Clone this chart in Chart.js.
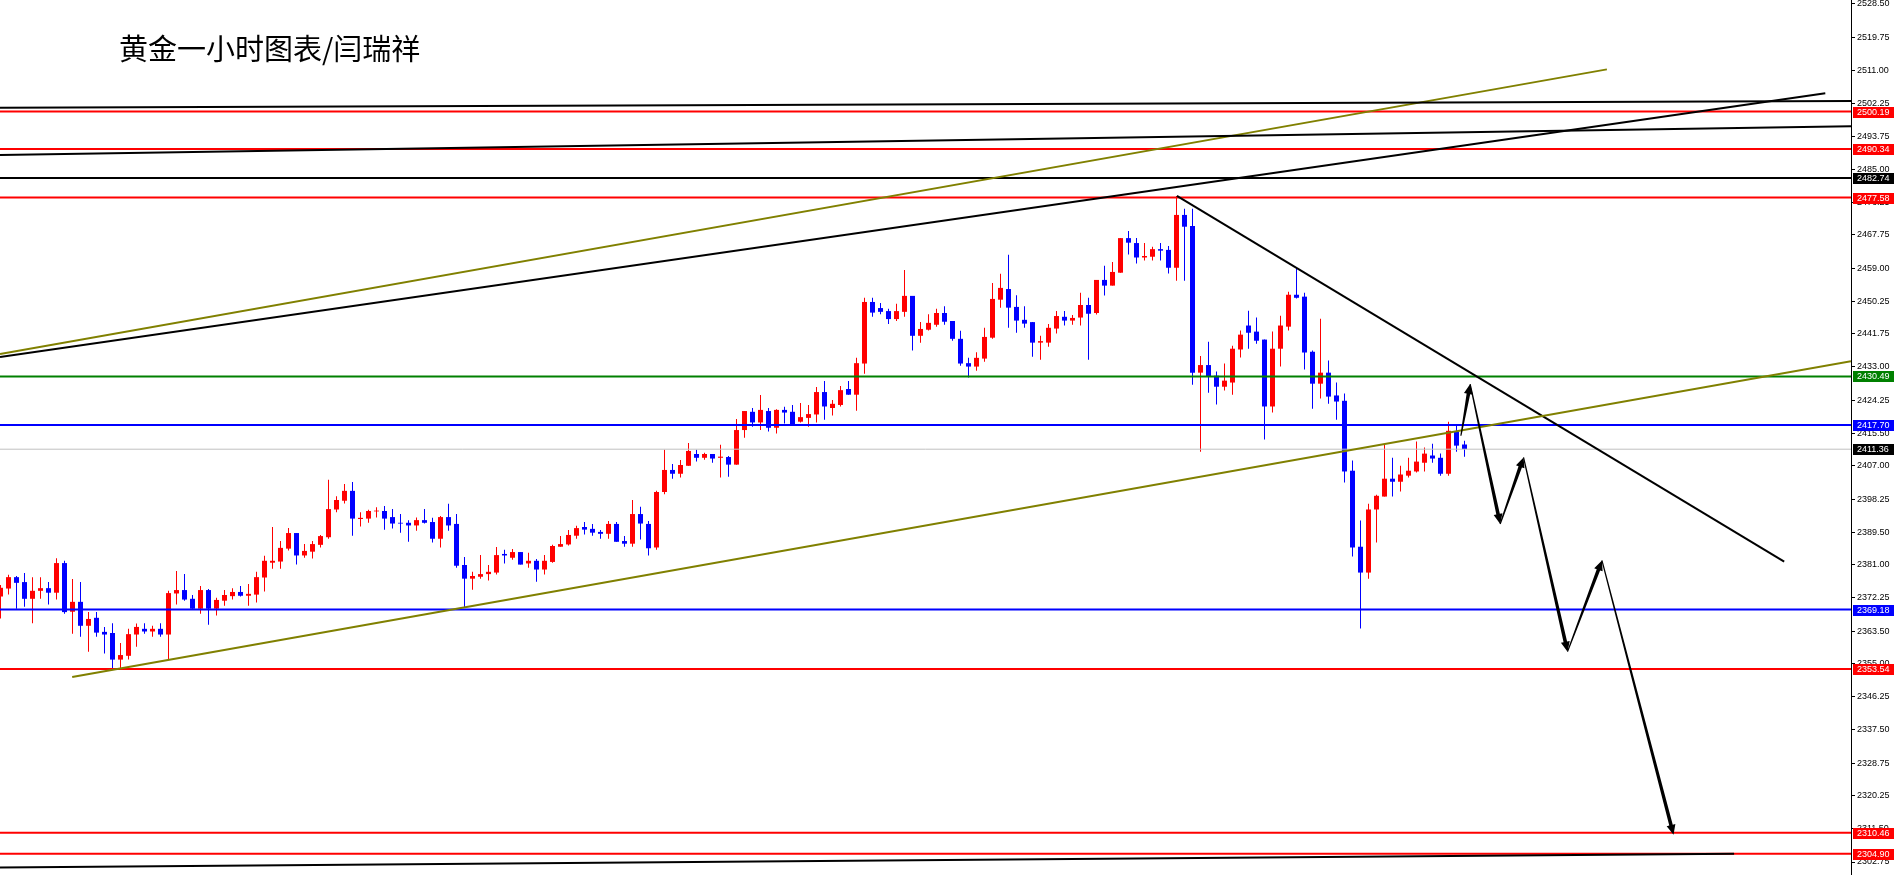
<!DOCTYPE html>
<html>
<head>
<meta charset="utf-8">
<script src="https://cdn.jsdelivr.net/npm/chart.js@4.4.1/dist/chart.umd.min.js"></script>
<style>
  html, body { margin: 0; padding: 0; background: #fff; }
  #wrap { width: 1895px; height: 875px; }
</style>
</head>
<body>
<div id="wrap"><canvas id="goldChart" width="1895" height="875"></canvas></div>
<script>
// hourly gold candles (index = hour bar)
const opens = [
  2372.6, 2374.7, 2377.7, 2376.4, 2372.0, 2374.1, 2374.8, 2373.6, 2381.4, 2368.6,
  2371.2, 2364.9, 2367.0, 2363.3, 2363.0, 2356.0, 2357.0, 2362.6, 2364.1, 2363.4,
  2364.1, 2362.6, 2373.4, 2374.3, 2372.0, 2369.4, 2374.3, 2369.4, 2371.5, 2372.7,
  2373.8, 2372.8, 2373.1, 2377.6, 2381.5, 2381.8, 2385.2, 2389.3, 2383.4, 2384.4,
  2386.2, 2388.2, 2395.5, 2397.8, 2400.4, 2393.0, 2393.1, 2395.0, 2395.1, 2393.5,
  2392.0, 2392.0, 2391.3, 2392.7, 2392.2, 2387.8, 2393.5, 2391.7, 2380.9, 2377.3,
  2377.8, 2378.5, 2378.9, 2383.8, 2382.8, 2384.3, 2381.3, 2382.0, 2379.7, 2381.7,
  2385.7, 2386.3, 2388.6, 2390.9, 2390.4, 2389.6, 2389.1, 2391.7, 2387.2, 2386.5,
  2394.3, 2391.7, 2385.5, 2400.1, 2405.9, 2404.9, 2407.0, 2410.1, 2409.1, 2410.1,
  2409.1, 2409.3, 2407.3, 2416.4, 2421.2, 2418.4, 2421.4, 2417.0, 2421.7, 2421.2,
  2418.6, 2419.6, 2420.5, 2426.4, 2422.2, 2423.0, 2427.2, 2425.7, 2433.9, 2450.1,
  2448.5, 2447.7, 2445.6, 2447.5, 2451.7, 2441.2, 2442.8, 2444.1, 2447.2, 2445.1,
  2440.4, 2434.0, 2433.1, 2435.2, 2440.7, 2450.7, 2453.5, 2448.8, 2445.4, 2444.8,
  2439.4, 2439.4, 2443.1, 2446.2, 2445.2, 2446.0, 2449.3, 2447.2, 2455.9, 2454.4,
  2457.8, 2466.9, 2465.6, 2461.8, 2462.0, 2464.0, 2463.8, 2459.1, 2473.0, 2470.1,
  2431.5, 2433.5, 2430.7, 2427.8, 2428.9, 2437.6, 2443.9, 2442.3, 2440.2, 2422.6,
  2437.8, 2443.6, 2452.0, 2451.5, 2437.0, 2428.6, 2431.5, 2425.5, 2424.1, 2405.7,
  2385.7, 2378.9, 2395.5, 2398.9, 2403.6, 2402.8, 2404.4, 2405.5, 2407.8, 2409.7,
  2409.1, 2404.9, 2416.0, 2412.6
];
const highs = [
  2375.6, 2378.3, 2378.0, 2378.8, 2377.7, 2377.7, 2376.4, 2382.7, 2382.0, 2377.2,
  2376.4, 2368.5, 2368.5, 2364.6, 2365.6, 2360.4, 2364.1, 2365.5, 2365.6, 2364.9,
  2365.6, 2374.1, 2379.3, 2378.5, 2373.0, 2375.4, 2374.6, 2372.3, 2374.3, 2374.8,
  2375.4, 2375.9, 2379.1, 2383.3, 2390.9, 2387.2, 2390.6, 2389.3, 2386.4, 2387.2,
  2388.8, 2403.3, 2399.0, 2402.2, 2402.7, 2394.8, 2395.4, 2396.1, 2396.4, 2395.6,
  2394.3, 2392.7, 2393.4, 2395.6, 2393.3, 2393.8, 2397.0, 2394.3, 2383.0, 2379.1,
  2383.5, 2380.9, 2385.6, 2384.9, 2385.1, 2384.3, 2384.1, 2382.5, 2383.5, 2386.2,
  2388.5, 2390.1, 2391.2, 2392.2, 2391.7, 2390.1, 2392.5, 2392.2, 2388.5, 2398.0,
  2396.2, 2392.5, 2400.4, 2411.2, 2407.5, 2408.5, 2413.0, 2411.2, 2410.4, 2410.1,
  2412.5, 2409.6, 2419.3, 2421.4, 2422.2, 2425.6, 2422.2, 2421.9, 2422.5, 2423.0,
  2423.5, 2423.0, 2427.7, 2429.3, 2424.3, 2428.0, 2429.3, 2435.4, 2451.2, 2451.2,
  2449.8, 2448.3, 2449.6, 2458.5, 2451.7, 2444.8, 2446.9, 2448.3, 2449.0, 2445.1,
  2442.5, 2435.4, 2436.9, 2443.3, 2455.1, 2457.5, 2462.5, 2451.9, 2449.0, 2444.8,
  2441.2, 2444.3, 2447.7, 2447.7, 2446.7, 2452.5, 2451.2, 2455.9, 2459.6, 2460.6,
  2466.9, 2468.8, 2466.9, 2465.6, 2464.6, 2465.6, 2464.8, 2478.0, 2474.6, 2474.6,
  2435.9, 2439.6, 2431.8, 2433.9, 2438.6, 2442.6, 2447.8, 2446.0, 2440.2, 2442.3,
  2446.5, 2452.8, 2459.1, 2452.5, 2437.3, 2445.7, 2434.7, 2428.9, 2426.0, 2408.4,
  2392.6, 2397.0, 2399.4, 2412.6, 2409.1, 2407.0, 2409.1, 2413.4, 2411.8, 2412.8,
  2410.2, 2418.6, 2417.8, 2413.6
];
const lows = [
  2366.8, 2373.1, 2369.4, 2369.9, 2365.6, 2372.0, 2370.5, 2371.8, 2368.1, 2362.8,
  2362.0, 2358.1, 2362.0, 2357.6, 2353.7, 2353.7, 2356.0, 2359.4, 2362.8, 2362.0,
  2362.0, 2355.9, 2370.5, 2371.5, 2369.4, 2368.1, 2365.2, 2367.6, 2370.2, 2371.8,
  2372.6, 2370.2, 2371.0, 2373.9, 2379.9, 2379.9, 2384.7, 2381.0, 2382.8, 2382.6,
  2385.5, 2387.8, 2394.8, 2397.1, 2388.6, 2391.0, 2392.0, 2393.4, 2390.2, 2390.5,
  2389.4, 2387.0, 2389.9, 2391.8, 2386.8, 2385.5, 2389.9, 2380.2, 2369.7, 2374.4,
  2377.3, 2376.8, 2378.4, 2381.3, 2382.3, 2381.0, 2380.2, 2376.5, 2378.4, 2381.5,
  2385.7, 2386.0, 2387.8, 2388.9, 2388.6, 2387.8, 2387.8, 2387.0, 2385.7, 2385.7,
  2387.6, 2383.4, 2384.9, 2399.5, 2403.6, 2403.9, 2407.0, 2408.1, 2408.6, 2407.8,
  2403.9, 2404.1, 2407.3, 2414.4, 2417.3, 2416.4, 2416.0, 2415.5, 2418.1, 2417.6,
  2418.4, 2417.3, 2418.4, 2419.1, 2420.2, 2422.6, 2425.7, 2421.5, 2431.2, 2446.2,
  2446.9, 2444.3, 2445.1, 2446.2, 2437.3, 2439.4, 2442.6, 2443.6, 2444.1, 2439.9,
  2433.3, 2430.2, 2432.0, 2434.4, 2440.4, 2448.6, 2443.3, 2442.0, 2443.3, 2435.7,
  2434.9, 2438.3, 2441.8, 2443.9, 2444.1, 2443.9, 2434.9, 2446.8, 2451.8, 2454.4,
  2457.8, 2462.6, 2460.2, 2461.0, 2461.0, 2461.0, 2457.6, 2455.7, 2455.7, 2428.3,
  2410.7, 2426.2, 2423.1, 2426.8, 2425.7, 2435.5, 2437.8, 2439.1, 2413.9, 2421.0,
  2433.1, 2442.6, 2451.0, 2432.3, 2422.0, 2424.7, 2423.3, 2419.1, 2402.6, 2383.1,
  2364.2, 2377.3, 2386.8, 2398.9, 2398.9, 2400.2, 2403.9, 2405.2, 2405.5, 2407.8,
  2404.4, 2404.4, 2410.7, 2409.4
];
const closes = [
  2374.9, 2377.7, 2376.2, 2372.0, 2374.1, 2374.8, 2373.6, 2381.4, 2368.5, 2371.2,
  2364.9, 2366.7, 2363.1, 2362.6, 2356.0, 2357.2, 2362.7, 2364.6, 2363.4, 2364.1,
  2362.6, 2373.5, 2374.3, 2371.8, 2369.4, 2374.3, 2369.4, 2371.7, 2373.0, 2373.8,
  2372.8, 2373.3, 2377.7, 2382.0, 2382.0, 2385.4, 2389.3, 2383.4, 2384.6, 2386.4,
  2388.5, 2395.6, 2398.0, 2400.4, 2393.1, 2393.3, 2395.1, 2395.2, 2393.1, 2391.8,
  2391.8, 2391.3, 2392.7, 2392.0, 2387.8, 2393.5, 2391.3, 2380.7, 2377.3, 2378.0,
  2378.5, 2379.1, 2383.5, 2383.4, 2384.3, 2381.0, 2382.0, 2379.7, 2382.0, 2385.9,
  2386.4, 2388.8, 2390.6, 2390.2, 2389.4, 2389.1, 2391.7, 2387.0, 2386.5, 2394.3,
  2391.8, 2385.3, 2400.1, 2405.9, 2404.9, 2407.2, 2410.9, 2409.1, 2410.1, 2408.9,
  2409.4, 2407.3, 2416.4, 2421.4, 2418.4, 2421.7, 2417.0, 2421.7, 2421.0, 2417.8,
  2419.8, 2420.6, 2426.4, 2422.6, 2423.3, 2426.9, 2425.7, 2434.0, 2450.1, 2447.3,
  2447.5, 2445.6, 2447.7, 2451.7, 2441.2, 2443.0, 2444.6, 2447.2, 2444.9, 2440.4,
  2433.9, 2433.1, 2435.4, 2440.9, 2450.9, 2453.8, 2448.6, 2445.2, 2444.4, 2439.4,
  2439.8, 2443.3, 2446.4, 2445.2, 2445.9, 2449.3, 2447.0, 2455.9, 2454.4, 2458.0,
  2466.9, 2465.7, 2461.8, 2462.2, 2464.0, 2463.6, 2459.1, 2473.0, 2469.9, 2431.5,
  2433.5, 2430.5, 2427.8, 2429.4, 2437.8, 2441.5, 2442.0, 2439.9, 2422.6, 2437.8,
  2443.9, 2452.0, 2451.2, 2436.8, 2428.6, 2431.5, 2425.2, 2423.9, 2405.5, 2385.5,
  2378.9, 2395.5, 2399.1, 2403.6, 2402.8, 2404.7, 2405.7, 2408.1, 2410.2, 2408.9,
  2404.9, 2416.2, 2412.3, 2411.4
];

// right axis tick labels
const tickValues = [
  2528.50, 2519.75, 2511.00, 2502.25, 2493.75, 2485.00, 2476.25, 2467.75, 2459.00,
  2450.25, 2441.75, 2433.00, 2424.25, 2415.50, 2407.00, 2398.25, 2389.50, 2381.00,
  2372.25, 2363.50, 2355.00, 2346.25, 2337.50, 2328.75, 2320.25, 2311.50, 2302.75
];

// horizontal price levels and their tags
const levelValues = [2500.19, 2490.34, 2482.74, 2477.58, 2430.49, 2417.70, 2411.36, 2369.18, 2353.54, 2310.46, 2304.90];
const levelColors = ['#ff0000', '#ff0000', '#000000', '#ff0000', '#008000', '#0000ff', '#c0c0c0', '#0000ff', '#ff0000', '#ff0000', '#ff0000'];
const levelTagColors = ['#ff0000', '#ff0000', '#000000', '#ff0000', '#008000', '#0000ff', '#000000', '#0000ff', '#ff0000', '#ff0000', '#ff0000'];

// trend lines: [startIndex, startPrice, endIndex, endPrice]
const trendLines = [
  [-0.06, 2501.2, 231.31, 2503.0],
  [-0.06, 2488.8, 231.31, 2496.3],
  [-0.06, 2435.6, 228.1, 2505.0],
  [-0.06, 2436.4, 200.8, 2511.3],
  [8.96, 2351.4, 231.31, 2434.5],
  [147.05, 2478.0, 222.96, 2381.8],
  [-0.06, 2301.3, 216.7, 2304.9]
];
const trendColors = ['#000000', '#000000', '#000000', '#808000', '#808000', '#000000', '#000000'];

// projected path (arrows)
const arrowIdx = [182.55, 183.71, 187.46, 190.38, 195.88, 200.18, 209.13];
const arrowPrice = [2414.9, 2428.5, 2391.7, 2409.2, 2358.1, 2382.1, 2309.9];

const xMin = -0.0625, xMax = 231.3125;
const yMin = 2299.33, yMax = 2529.55;

const candleColor = opens.map((o, i) => closes[i] >= o ? '#ff0000' : '#0000ff');

const datasets = [];
levelValues.forEach((v, i) => {
  datasets.push({
    type: 'line',
    data: [{x: xMin, y: v}, {x: xMax, y: v}],
    borderColor: levelColors[i],
    borderWidth: levelColors[i] === '#c0c0c0' ? 1 : 2,
    pointRadius: 0,
    order: 1
  });
});
trendLines.forEach((t, i) => {
  datasets.push({
    type: 'line',
    data: [{x: t[0], y: t[1]}, {x: t[2], y: t[3]}],
    borderColor: trendColors[i],
    borderWidth: 2,
    pointRadius: 0,
    order: 0
  });
});
datasets.push({
  type: 'bar',
  data: highs.map((h, i) => ({x: i, y: [lows[i], h]})),
  backgroundColor: candleColor,
  maxBarThickness: 1,
  order: 6
});
datasets.push({
  type: 'bar',
  data: opens.map((o, i) => ({x: i, y: [o, closes[i]]})),
  backgroundColor: candleColor,
  maxBarThickness: 5,
  order: 5
});

// price tags on the right axis, title and arrows
const overlay = {
  id: 'overlay',
  afterDatasetsDraw(chart) {
    const c = chart.ctx, xs = chart.scales.x, ys = chart.scales.y;
    c.save();
    c.fillStyle = '#000';
    for (let i = 0; i < arrowIdx.length - 1; i++) {
      const ax = xs.getPixelForValue(arrowIdx[i]), ay = ys.getPixelForValue(arrowPrice[i]);
      const bx = xs.getPixelForValue(arrowIdx[i + 1]), by = ys.getPixelForValue(arrowPrice[i + 1]);
      const len = Math.hypot(bx - ax, by - ay);
      const dx = (bx - ax) / len, dy = (by - ay) / len;
      const nx = -dy, ny = dx;
      const head = 10, hw = 4.5, w0 = 0.6, w1 = 1.8;
      const cx = bx - dx * head, cy = by - dy * head;
      c.beginPath();
      c.moveTo(ax + nx * w0, ay + ny * w0);
      c.lineTo(cx + nx * w1, cy + ny * w1);
      c.lineTo(cx + nx * hw, cy + ny * hw);
      c.lineTo(bx, by);
      c.lineTo(cx - nx * hw, cy - ny * hw);
      c.lineTo(cx - nx * w1, cy - ny * w1);
      c.lineTo(ax - nx * w0, ay - ny * w0);
      c.closePath();
      c.fill();
    }
    c.restore();
  },
  afterDraw(chart) {
    const c = chart.ctx, ys = chart.scales.y;
    c.save();
    c.font = '9px "Liberation Sans"';
    c.textBaseline = 'middle';
    c.textAlign = 'left';
    levelValues.forEach((v, i) => {
      const y = Math.round(ys.getPixelForValue(v));
      c.fillStyle = levelTagColors[i];
      c.fillRect(chart.chartArea.right + 2, y - 5, 41, 11);
      c.fillStyle = '#ffffff';
      c.fillText(v.toFixed(2), chart.chartArea.right + 6, y + 0.5);
    });
    c.font = '29px "Noto Sans CJK SC"';
    c.fillStyle = '#000';
    c.fillText('黄金一小时图表/闫瑞祥', 119, 49);
    c.restore();
  }
};

new Chart(document.getElementById('goldChart'), {
  type: 'bar',
  data: { datasets },
  options: {
    responsive: false,
    animation: false,
    layout: { padding: 0 },
    datasets: {
      bar: { grouped: false, barPercentage: 1, categoryPercentage: 1, inflateAmount: 0, borderWidth: 0 },
      line: { tension: 0, fill: false }
    },
    plugins: { legend: { display: false }, tooltip: { enabled: false }, title: { display: false } },
    scales: {
      x: { type: 'linear', display: false, min: xMin, max: xMax, offset: false },
      y: {
        type: 'linear',
        position: 'right',
        min: yMin,
        max: yMax,
        afterBuildTicks: (scale) => { scale.ticks = tickValues.map(v => ({ value: v })); },
        afterFit: (scale) => {
          scale.width = 44;
          scale.paddingTop = 0;
          scale.paddingBottom = 0;
        },
        grid: { drawOnChartArea: false, drawTicks: true, tickLength: 4, color: '#000' },
        border: { display: true, color: '#000', width: 1 },
        ticks: {
          autoSkip: false,
          padding: 2,
          color: '#000',
          font: { family: 'Liberation Sans', size: 9 },
          callback: (v) => Number(v).toFixed(2)
        }
      }
    }
  },
  plugins: [overlay]
});
</script>
</body>
</html>
